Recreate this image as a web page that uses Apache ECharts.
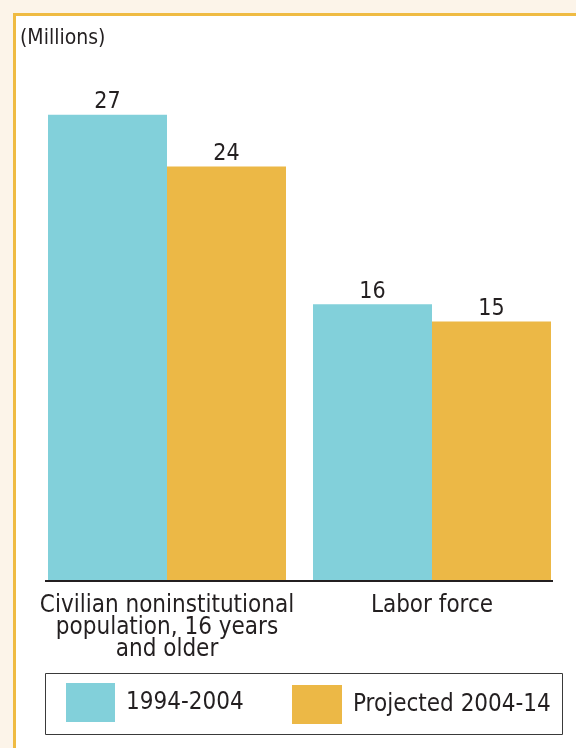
<!DOCTYPE html>
<html>
<head>
<meta charset="utf-8">
<script src="https://cdn.jsdelivr.net/npm/echarts@6/dist/echarts.min.js"></script>
<style>
  html, body { margin: 0; padding: 0; background: #fcf4e9; }
  #main { width: 576px; height: 748px; }
</style>
</head>
<body>
<div id="main"></div>
<script>
// data
var categories = ['Civilian noninstitutional\npopulation, 16 years\nand older', 'Labor force'];
var seriesNames = ['1994-2004', 'Projected 2004-14'];
var past = [27, 16];
var projected = [24, 15];

var FONT = "'DejaVu Sans Condensed', 'Liberation Sans Narrow', sans-serif";
var INK = '#231f20';
var BLUE = '#82d0da';
var ORANGE = '#ecb846';

var chart = echarts.init(document.getElementById('main'));

function barLabel() {
    return {
        show: true,
        position: 'top',
        distance: 1,
        color: INK,
        fontFamily: FONT,
        fontSize: 23
    };
}

var option = {
    backgroundColor: '#fcf4e9',
    animation: false,
    textStyle: { fontFamily: FONT, color: INK },
    grid: { left: 34.5, right: 11.5, top: 63, bottom: 168 },
    xAxis: {
        type: 'category',
        data: categories,
        axisLine: { show: false },
        axisTick: { show: false },
        axisLabel: {
            color: INK,
            fontFamily: FONT,
            fontSize: 24,
            lineHeight: 22,
            margin: 15,
            interval: 0
        }
    },
    yAxis: {
        type: 'value',
        min: 0,
        max: 30,
        show: false
    },
    legend: [{
        data: [seriesNames[0]],
        left: 66,
        top: 683,
        padding: 0,
        itemWidth: 49,
        itemHeight: 39,
        icon: 'rect',
        textStyle: { color: INK, fontFamily: FONT, fontSize: 24, padding: [0, 0, 0, 6] }
    }, {
        data: [seriesNames[1]],
        left: 292,
        top: 685,
        padding: 0,
        itemWidth: 50,
        itemHeight: 39,
        icon: 'rect',
        textStyle: { color: INK, fontFamily: FONT, fontSize: 24, padding: [0, 0, 0, 6] }
    }],
    graphic: [
        // frame
        {
            type: 'rect', z: -10, silent: true,
            shape: { x: 14.5, y: 14.5, width: 620, height: 800 },
            style: { fill: '#ffffff', stroke: '#efbb43', lineWidth: 3 }
        },
        {
            type: 'text', left: 20, top: 28,
            style: { text: '(Millions)', fill: INK, font: '21px ' + FONT }
        },
        // baseline
        {
            type: 'line', silent: true,
            shape: { x1: 45, y1: 581, x2: 553, y2: 581 },
            style: { stroke: '#231f20', lineWidth: 2 }
        },
        // legend box
        {
            type: 'rect', silent: true,
            shape: { x: 45.5, y: 673.5, width: 517, height: 61 },
            style: { fill: 'none', stroke: '#3a3a3a', lineWidth: 1 }
        }
    ],
    series: [{
        name: seriesNames[0],
        type: 'bar',
        data: past,
        barWidth: 119,
        barGap: '0%',
        itemStyle: { color: BLUE },
        label: barLabel()
    }, {
        name: seriesNames[1],
        type: 'bar',
        data: projected,
        barWidth: 119,
        itemStyle: { color: ORANGE },
        label: barLabel()
    }]
};

chart.setOption(option);
</script>
</body>
</html>
